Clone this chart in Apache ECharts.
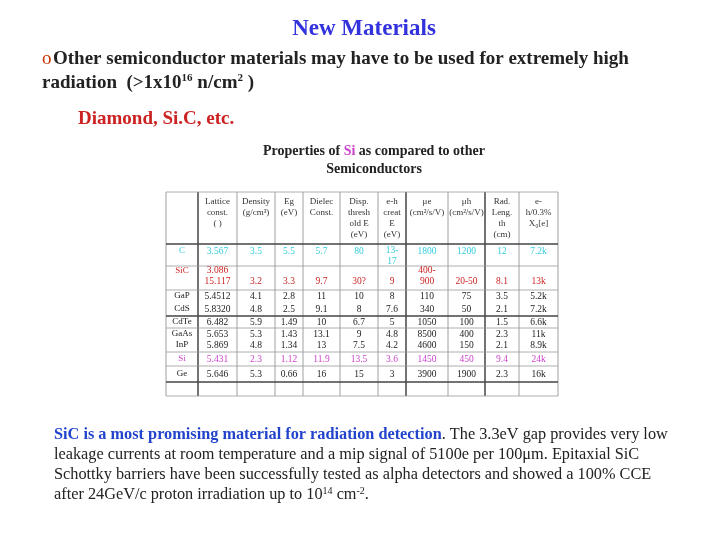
<!DOCTYPE html><html><head><meta charset="utf-8"><script src="https://cdn.jsdelivr.net/npm/echarts@6/dist/echarts.min.js"></script>
<style>body{margin:0}#c{width:720px;height:540px}</style></head><body><div id="c"></div><script>
var headers=[["Lattice","const.","( )"],["Density","(g/cm³)"],["Eg","(eV)"],["Dielec","Const."],["Disp.","thresh","old E","(eV)"],["e-h","creat","E","(eV)"],["μe","(cm²/s/V)"],["μh","(cm²/s/V)"],["Rad.","Leng.","th","(cm)"],["e-","h/0.3%","X₀[e]"]];
var materials=["C","SiC","GaP","CdS","CdTe","GaAs","InP","Si","Ge"];
var rows=[
["3.567","3.5","5.5","5.7","80","13-\n17","1800","1200","12","7.2k"],
["3.086\n15.117","3.2","3.3","9.7","30?","9","400-\n900","20-50","8.1","13k"],
["5.4512","4.1","2.8","11","10","8","110","75","3.5","5.2k"],
["5.8320","4.8","2.5","9.1","8","7.6","340","50","2.1","7.2k"],
["6.482","5.9","1.49","10","6.7","5","1050","100","1.5","6.6k"],
["5.653","5.3","1.43","13.1","9","4.8","8500","400","2.3","11k"],
["5.869","4.8","1.34","13","7.5","4.2","4600","150","2.1","8.9k"],
["5.431","2.3","1.12","11.9","13.5","3.6","1450","450","9.4","24k"],
["5.646","5.3","0.66","16","15","3","3900","1900","2.3","16k"]];
var rowColors=["#33ccdd","#cc2222","#222","#222","#222","#222","#222","#cc44cc","#222"];
var colEdges=[166,198,237,275,303,340,378,406,448,485,519,558];
var rowY=[251,275,296,309,322,334,345,359,374];
var hLines=[192,244,266,290,316,328,352,366,382,396];
var g=[];
var SF='Liberation Serif';
function t(x,y,s,o){g.push({type:'text',x:x,y:y,style:Object.assign({text:s,font:'12px '+SF,fill:'#222'},o)});}
t(364,29,'New Materials',{font:'bold 23px '+SF,fill:'#3333dd',align:'center',verticalAlign:'middle'});
t(42,59,'o',{font:'19px '+SF,fill:'#cc3300',verticalAlign:'middle'});
t(53,59,'Other semiconductor materials may have to be used for extremely high',{font:'bold 19px '+SF,fill:'#222',verticalAlign:'middle'});
g.push({type:'text',x:42,y:83,style:{rich:{a:{font:'bold 19px '+SF,fill:'#222'},s:{font:'bold 11px '+SF,fill:'#222',padding:[0,0,9,0]}},text:'{a|radiation  (>1x10}{s|16}{a| n/cm}{s|2}{a| )}',verticalAlign:'middle'}});
t(78,119,'Diamond, Si.C, etc.',{font:'bold 19px '+SF,fill:'#cc2222',verticalAlign:'middle'});
g.push({type:'text',x:374,y:151,style:{rich:{a:{font:'bold 14px '+SF,fill:'#222'},b:{font:'bold 14px '+SF,fill:'#cc44cc'}},text:'{a|Properties of }{b|Si}{a| as compared to other}',align:'center',verticalAlign:'middle'}});
t(374,169,'Semiconductors',{font:'bold 14px '+SF,align:'center',verticalAlign:'middle'});
colEdges.forEach(function(x,i){var thick=(i==1||i==7||i==9);g.push({type:'line',shape:{x1:x,y1:192,x2:x,y2:396},style:{stroke:thick?'#444':'#888',lineWidth:thick?1.5:0.8}});});
hLines.forEach(function(y,i){var thick=(i==1||i==4||i==8);g.push({type:'line',shape:{x1:166,y1:y,x2:558,y2:y},style:{stroke:thick?'#444':'#999',lineWidth:thick?1.5:0.8}});});
headers.forEach(function(h,j){var cx=(colEdges[j+1]+colEdges[j+2])/2;t(cx,196,h.join('\n'),{font:'9px '+SF,align:'center',lineHeight:11,fill:'#333'});});
materials.forEach(function(m,i){var c=rowColors[i];t(182,i==1?271:rowY[i],m,{font:'9px '+SF,align:'center',verticalAlign:'middle',fill:c});
 rows[i].forEach(function(v,j){var cx=(colEdges[j+1]+colEdges[j+2])/2;var multi=v.indexOf('\n')>=0;var y=rowY[i];if(i==0&&multi)y=256;if(i==1&&!multi)y=281;if(i==1&&multi)y=276;t(cx,y,v,{font:'9.5px '+SF,align:'center',verticalAlign:'middle',lineHeight:11,fill:c});});});
var BF='16.3px '+SF;
g.push({type:'text',x:54,y:435,style:{rich:{b:{font:'bold '+BF,fill:'#2244cc'},a:{font:BF,fill:'#222'}},text:'{b|SiC is a most promising material for radiation detection}{a|. The 3.3eV gap provides very low}',verticalAlign:'middle'}});
t(54,455,'leakage currents at room temperature and a mip signal of 5100e per 100μm. Epitaxial SiC',{font:BF,verticalAlign:'middle'});
t(54,475,'Schottky barriers have been successfully tested as alpha detectors and showed a 100% CCE',{font:BF,verticalAlign:'middle'});
g.push({type:'text',x:54,y:495,style:{rich:{a:{font:BF,fill:'#222'},s:{font:'10px '+SF,fill:'#222',padding:[0,0,8,0]}},text:'{a|after 24GeV/c proton irradiation up to 10}{s|14}{a| cm}{s|-2}{a|.}',verticalAlign:'middle'}});
var ch=echarts.init(document.getElementById('c'));
ch.setOption({backgroundColor:'#fff',graphic:g});
</script></body></html>
